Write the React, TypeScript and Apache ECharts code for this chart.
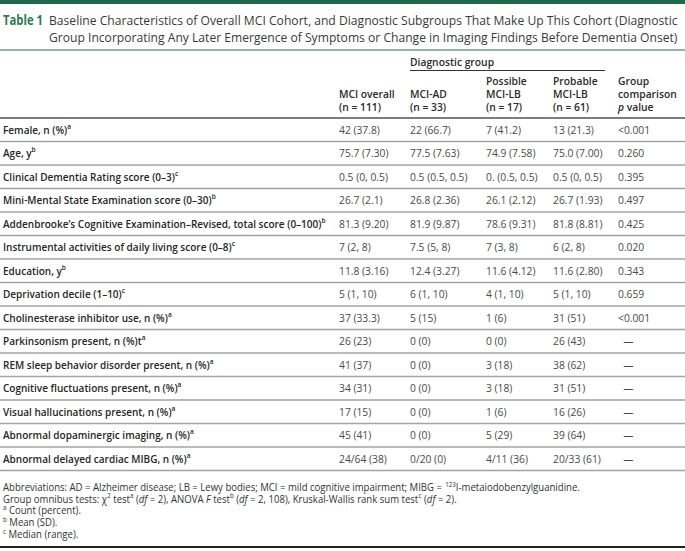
import React, { useEffect, useRef } from 'react';
import * as echarts from 'echarts';

const FONT = '"Open Sans", "Noto Sans", sans-serif';

const titleLabel = 'Table 1';
const titleLines = [
  'Baseline Characteristics of Overall MCI Cohort, and Diagnostic Subgroups That Make Up This Cohort (Diagnostic',
  'Group Incorporating Any Later Emergence of Symptoms or Change in Imaging Findings Before Dementia Onset)',
];
const spanHeader = 'Diagnostic group';
const headerCols: string[][] = [
  ['MCI overall', '(n = 111)'],
  ['MCI-AD', '(n = 33)'],
  ['Possible', 'MCI-LB', '(n = 17)'],
  ['Probable', 'MCI-LB', '(n = 61)'],
  ['Group', 'comparison', 'p value'],
];
const rowLabels = [
  'Female, n (%)',
  'Age, y',
  'Clinical Dementia Rating score (0–3)',
  'Mini-Mental State Examination score (0–30)',
  'Addenbrooke’s Cognitive Examination–Revised, total score (0–100)',
  'Instrumental activities of daily living score (0–8)',
  'Education, y',
  'Deprivation decile (1–10)',
  'Cholinesterase inhibitor use, n (%)',
  'Parkinsonism present, n (%)t',
  'REM sleep behavior disorder present, n (%)',
  'Cognitive fluctuations present, n (%)',
  'Visual hallucinations present, n (%)',
  'Abnormal dopaminergic imaging, n (%)',
  'Abnormal delayed cardiac MIBG, n (%)',
];
const rowSup = ['a', 'b', 'c', 'b', 'b', 'c', 'b', 'c', 'a', 'a', 'a', 'a', 'a', 'a', 'a'];
const overallValues = ['42 (37.8)', '75.7 (7.30)', '0.5 (0, 0.5)', '26.7 (2.1)', '81.3 (9.20)', '7 (2, 8)', '11.8 (3.16)', '5 (1, 10)', '37 (33.3)', '26 (23)', '41 (37)', '34 (31)', '17 (15)', '45 (41)', '24/64 (38)'];
const mciAdValues = ['22 (66.7)', '77.5 (7.63)', '0.5 (0.5, 0.5)', '26.8 (2.36)', '81.9 (9.87)', '7.5 (5, 8)', '12.4 (3.27)', '6 (1, 10)', '5 (15)', '0 (0)', '0 (0)', '0 (0)', '0 (0)', '0 (0)', '0/20 (0)'];
const possibleValues = ['7 (41.2)', '74.9 (7.58)', '0. (0.5, 0.5)', '26.1 (2.12)', '78.6 (9.31)', '7 (3, 8)', '11.6 (4.12)', '4 (1, 10)', '1 (6)', '0 (0)', '3 (18)', '3 (18)', '1 (6)', '5 (29)', '4/11 (36)'];
const probableValues = ['13 (21.3)', '75.0 (7.00)', '0.5 (0, 0.5)', '26.7 (1.93)', '81.8 (8.81)', '6 (2, 8)', '11.6 (2.80)', '5 (1, 10)', '31 (51)', '26 (43)', '38 (62)', '31 (51)', '16 (26)', '39 (64)', '20/33 (61)'];
const pValues = ['<0.001', '0.260', '0.395', '0.497', '0.425', '0.020', '0.343', '0.659', '<0.001', '–', '–', '–', '–', '–', '–'];

type Seg = { t: string; b?: boolean; i?: boolean; sup?: boolean };
const footnotes: Seg[][] = [
  [{ t: 'Abbreviations: AD = Alzheimer disease; LB = Lewy bodies; MCI = mild cognitive impairment; MIBG = ' }, { t: '123', sup: true }, { t: 'I-metaiodobenzylguanidine.' }],
  [
    { t: 'Group omnibus tests: χ' }, { t: '2', sup: true }, { t: ' test' }, { t: 'a', sup: true }, { t: ' (' }, { t: 'df', i: true }, { t: ' = 2), ANOVA ' },
    { t: 'F', i: true }, { t: ' test' }, { t: 'b', sup: true }, { t: ' (' }, { t: 'df', i: true }, { t: ' = 2, 108), Kruskal-Wallis rank sum test' },
    { t: 'c', sup: true }, { t: ' (' }, { t: 'df', i: true }, { t: ' = 2).' },
  ],
  [{ t: 'a', sup: true }, { t: ' Count (percent).' }],
  [{ t: 'b', sup: true }, { t: ' Mean (SD).' }],
  [{ t: 'c', sup: true }, { t: ' Median (range).' }],
];

let ctx: CanvasRenderingContext2D | null = null;
function measure(text: string, size: number, weight: string | number = 'normal', italic = false, family = FONT) {
  if (!ctx) ctx = document.createElement('canvas').getContext('2d');
  ctx!.font = `${italic ? 'italic' : 'normal'} ${weight} ${size}px ${family}`;
  return ctx!.measureText(text).width;
}

function runs(segs: Seg[], x0: number, y: number, size: number, color: string, weightAll: string | number = 'normal') {
  const els: any[] = [];
  let x = x0;
  for (const s of segs) {
    const sz = s.sup ? size * 0.65 : size;
    const weight = s.b ? 'bold' : weightAll;
    els.push({
      type: 'text',
      x,
      y: s.sup ? y - size * 0.33 : y,
      style: {
        text: s.t,
        fontFamily: FONT,
        fontSize: sz,
        fontWeight: weight,
        fontStyle: s.i ? 'italic' : 'normal',
        fill: color,
        align: 'left',
        verticalAlign: 'middle',
      },
    });
    x += measure(s.t, sz, weight, !!s.i);
  }
  return { els, width: x - x0 };
}

function segWidth(segs: Seg[], size: number) {
  let w = 0;
  for (const s of segs) w += measure(s.t, s.sup ? size * 0.65 : size, s.b ? 'bold' : 'normal', !!s.i);
  return w;
}

function buildGraphic() {
  const W = 685;
  const els: any[] = [];
  els.push({ type: 'rect', shape: { x: 0, y: 0, width: W, height: 4 }, style: { fill: '#1e6a4c' } });
  const tSize = 13.5;
  const tScale = 40 / measure(titleLabel, tSize, 'bold');
  els.push({
    type: 'group', x: 3, y: 0, scaleX: tScale,
    children: [{ type: 'text', x: 0, y: 20, style: { text: titleLabel, fontFamily: FONT, fontSize: tSize, fontWeight: 'bold', fill: '#2b7a57', align: 'left', verticalAlign: 'middle' } }],
  });
  titleLines.forEach((line, k) => {
    const sc = 629 / measure(line, tSize);
    els.push({
      type: 'group', x: 49, y: 0, scaleX: sc,
      children: [{ type: 'text', x: 0, y: 20 + k * 16.5, style: { text: line, fontFamily: FONT, fontSize: tSize, fill: '#3a3a3a', align: 'left', verticalAlign: 'middle' } }],
    });
  });
  els.push({ type: 'line', shape: { x1: 0, y1: 50, x2: W, y2: 50 }, style: { stroke: '#6f9e87', lineWidth: 1.5 } });

  const colX = [339, 410, 486, 553, 618];
  const hs = 10.3;
  const fs = 10;
  const vs = 10.3;
  const headColor = '#2a2a2a';
  els.push(...runs([{ t: spanHeader }], 410, 62, hs, headColor, 600).els);
  els.push({ type: 'line', shape: { x1: 410, y1: 70.5, x2: 605, y2: 70.5 }, style: { stroke: '#333', lineWidth: 1 } });
  headerCols.forEach((lines, c) => {
    const start = 3 - lines.length;
    lines.forEach((ln, r) => {
      const y = 81 + (start + r) * 13;
      let segs: Seg[] = [{ t: ln }];
      if (ln === 'p value') segs = [{ t: 'p', i: true }, { t: ' value' }];
      els.push(...runs(segs, colX[c], y, hs, headColor, 600).els);
    });
  });
  els.push({ type: 'line', shape: { x1: 0, y1: 118, x2: W, y2: 118 }, style: { stroke: '#7d7d7d', lineWidth: 2 } });

  const pitch = 23.5;
  const cols = [overallValues, mciAdValues, possibleValues, probableValues, pValues];
  rowLabels.forEach((lab, i) => {
    const y = 118 + pitch * (i + 0.5);
    els.push(...runs([{ t: lab }, { t: rowSup[i], sup: true }], 3, y, fs, '#262626', 600).els);
    cols.forEach((col, c) => {
      const isDash = col[i] === '–';
      const textEl = {
        type: 'text', x: 0, y,
        style: { text: col[i], fontFamily: FONT, fontSize: vs, fill: '#4a4a4a', align: 'left', verticalAlign: 'middle' },
      };
      if (isDash) {
        els.push({ type: 'group', x: 623, y: 0, scaleX: 2.1, children: [textEl] });
      } else {
        els.push({ ...textEl, x: colX[c] });
      }
    });
    els.push({ type: 'line', shape: { x1: 0, y1: 118 + pitch * (i + 1), x2: W, y2: 118 + pitch * (i + 1) }, style: { stroke: '#a3a3a3', lineWidth: 1.5 } });
  });

  const fnSize = 10;
  const fnScale = 577 / segWidth(footnotes[0], fnSize);
  const fnChildren: any[] = [];
  footnotes.forEach((segs, k) => {
    fnChildren.push(...runs(segs, 0, 487.5 + k * 11.7, fnSize, '#333').els);
  });
  els.push({ type: 'group', x: 3, y: 0, scaleX: fnScale, children: fnChildren });
  els.push({ type: 'line', shape: { x1: 0, y1: 547, x2: W, y2: 547 }, style: { stroke: '#222', lineWidth: 2 } });
  return els;
}

export default function App() {
  const ref = useRef<HTMLDivElement>(null);
  useEffect(() => {
    document.body.style.margin = '0';
    const chart = echarts.init(ref.current!, undefined, { renderer: 'svg' });
    chart.setOption({
      animation: false,
      backgroundColor: '#ffffff',
      graphic: { elements: buildGraphic() },
    });
    return () => chart.dispose();
  }, []);
  return <div ref={ref} style={{ width: 685, height: 551 }} />;
}
